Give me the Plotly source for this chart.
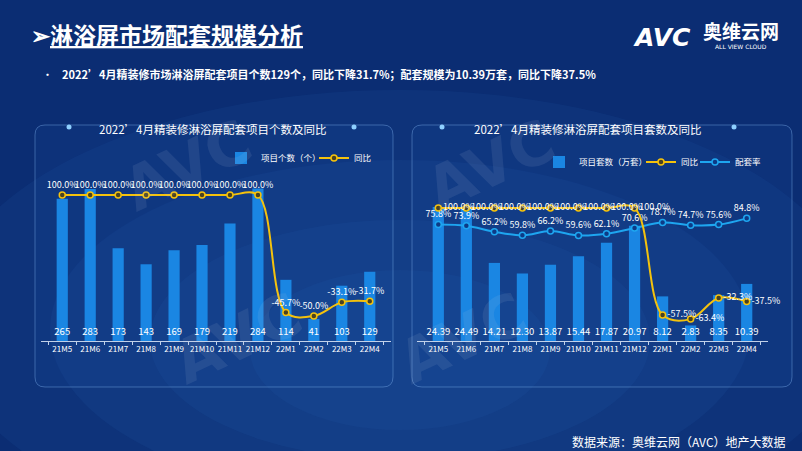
import plotly.graph_objects as go

W, H = 802, 451

# ---------------- data ----------------
months = ["21M5", "21M6", "21M7", "21M8", "21M9", "21M10",
          "21M11", "21M12", "22M1", "22M2", "22M3", "22M4"]
project_counts = [265, 283, 173, 143, 169, 179, 219, 284, 114, 41, 103, 129]
count_yoy = [100.0, 100.0, 100.0, 100.0, 100.0, 100.0, 100.0, 100.0,
             -45.7, -50.0, -33.1, -31.7]
set_volume = [24.39, 24.49, 14.21, 12.30, 13.87, 15.44, 17.87, 20.97,
              8.12, 2.83, 8.35, 10.39]
set_yoy = [100.0, 100.0, 100.0, 100.0, 100.0, 100.0, 100.0, 100.0,
           -57.5, -63.4, -32.3, -37.5]
match_rate = [75.8, 73.9, 65.2, 59.8, 66.2, 59.6, 62.1, 70.6,
              78.7, 74.7, 75.6, 84.8]

# ---------------- styling ----------------
FONT = "Noto Sans CJK SC"
BAR = "#1a86e3"
YELLOW = "#f4c20d"
CYAN = "#1ea6f0"
WHITE = "#ffffff"


def px_x(px):
    return px / W


def px_y(py):
    return 1 - py / H


fig = go.Figure()

# left chart
fig.add_trace(go.Bar(
    x=months, y=project_counts, xaxis="x", yaxis="y",
    name="项目个数（个）", legend="legend", legendwidth=48,
    marker=dict(color=BAR, line=dict(width=0)), width=0.4,
    text=[str(v) for v in project_counts],
    textposition="inside", insidetextanchor="start", textangle=0,
    constraintext="none",
    textfont=dict(color=WHITE, size=9.5, family=FONT),
))
fig.add_trace(go.Scatter(
    x=months, y=count_yoy, xaxis="x", yaxis="y2",
    name="同比", legend="legend",
    mode="lines+markers+text",
    line=dict(color=YELLOW, width=2, shape="spline", smoothing=1),
    marker=dict(size=6, color="#4a4220", line=dict(color=YELLOW, width=1.5)),
    text=[f"{v:.1f}%" for v in count_yoy], textposition="top center",
    textfont=dict(color=WHITE, size=9, family=FONT),
    cliponaxis=False,
))

# right chart
fig.add_trace(go.Bar(
    x=months, y=set_volume, xaxis="x2", yaxis="y3",
    name="项目套数（万套）", legend="legend2", legendrank=1, legendwidth=57,
    marker=dict(color=BAR, line=dict(width=0)), width=0.4,
    text=[f"{v:.2f}" for v in set_volume],
    textposition="inside", insidetextanchor="start", textangle=0,
    constraintext="none",
    textfont=dict(color=WHITE, size=9.5, family=FONT),
))
fig.add_trace(go.Scatter(
    x=months, y=match_rate, xaxis="x2", yaxis="y4",
    name="配套率", legend="legend2", legendrank=3,
    mode="lines+markers+text",
    line=dict(color=CYAN, width=2, shape="spline", smoothing=1),
    marker=dict(size=6, color="#0d3a86", line=dict(color=CYAN, width=1.5)),
    text=[f"{v:.1f}%" for v in match_rate], textposition="top center",
    textfont=dict(color=WHITE, size=9, family=FONT),
    cliponaxis=False,
))
fig.add_trace(go.Scatter(
    x=months, y=set_yoy, xaxis="x2", yaxis="y4",
    name="同比", legend="legend2", legendrank=2, legendwidth=9,
    mode="lines+markers+text",
    line=dict(color=YELLOW, width=2, shape="spline", smoothing=1),
    marker=dict(size=6, color="#4a4220", line=dict(color=YELLOW, width=1.5)),
    text=[f"{v:.1f}%" for v in set_yoy], textposition="middle right",
    textfont=dict(color=WHITE, size=9, family=FONT),
    cliponaxis=False,
))

ydom = [px_y(341), px_y(180)]
xaxis_common = dict(
    type="category", showgrid=False, zeroline=False,
    showline=True, linecolor="rgba(225,235,250,0.85)", linewidth=1,
    ticks="outside", tickson="boundaries", ticklen=3,
    tickcolor="rgba(225,235,250,0.85)", tickangle=0,
    tickfont=dict(color=WHITE, size=8, family=FONT),
    fixedrange=True,
)
yaxis_hidden = dict(showgrid=False, zeroline=False, showticklabels=False,
                    showline=False, ticks="", fixedrange=True)


def rounded_rect(x0, y0, x1, y1, r):
    pts = [
        ("M", [(x0 + r, y0)]), ("L", [(x1 - r, y0)]),
        ("Q", [(x1, y0), (x1, y0 + r)]), ("L", [(x1, y1 - r)]),
        ("Q", [(x1, y1), (x1 - r, y1)]), ("L", [(x0 + r, y1)]),
        ("Q", [(x0, y1), (x0, y1 - r)]), ("L", [(x0, y0 + r)]),
        ("Q", [(x0, y0), (x0 + r, y0)]),
    ]
    s = ""
    for cmd, coords in pts:
        s += cmd + " " + " ".join(f"{px_x(a):.5f},{px_y(b):.5f}" for a, b in coords) + " "
    return s + "Z"


shapes = []
# background glow
for (cx, cy, rx, ry, op) in [(400, 320, 460, 230, 0.07), (400, 330, 350, 170, 0.07),
                             (400, 340, 250, 120, 0.07), (400, 350, 150, 80, 0.06)]:
    shapes.append(dict(type="circle", xref="paper", yref="paper",
                       x0=px_x(cx - rx), x1=px_x(cx + rx),
                       y0=px_y(cy + ry), y1=px_y(cy - ry),
                       fillcolor="#3f8be0", opacity=op, line=dict(width=0),
                       layer="below"))
# panels
for (x0, x1) in [(35, 393), (412, 792)]:
    shapes.append(dict(type="path", xref="paper", yref="paper",
                       path=rounded_rect(x0, 125, x1, 387, 10),
                       fillcolor="rgba(30,80,170,0.15)",
                       line=dict(color="rgba(130,180,240,0.40)", width=1),
                       layer="below"))
# decorative dots on panel header
for (dx, dy) in [(69, 127), (354, 127), (442, 127), (734, 127)]:
    shapes.append(dict(type="circle", xref="paper", yref="paper",
                       x0=px_x(dx - 2.5), x1=px_x(dx + 2.5),
                       y0=px_y(dy + 2.5), y1=px_y(dy - 2.5),
                       fillcolor="#8fd0ff", line=dict(width=0), layer="below"))

wm_font = dict(size=60, color="rgba(200,210,230,0.10)", family="DejaVu Sans", weight="bold")
annotations = [
    # watermarks
    dict(text="AVC", x=px_x(110), y=px_y(165), xref="paper", yref="paper",
         showarrow=False, textangle=-25, font=wm_font),
    dict(text="AVC", x=px_x(490), y=px_y(165), xref="paper", yref="paper",
         showarrow=False, textangle=-25, font=wm_font),
    dict(text="AVC", x=px_x(160), y=px_y(400), xref="paper", yref="paper",
         showarrow=False, textangle=-25, font=wm_font),
    dict(text="AVC", x=px_x(540), y=px_y(400), xref="paper", yref="paper",
         showarrow=False, textangle=-25, font=wm_font),
    # title
    dict(text="➢<u>淋浴屏市场配套规模分析</u>", x=px_x(29), y=px_y(34),
         xref="paper", yref="paper", xanchor="left", yanchor="middle",
         showarrow=False,
         font=dict(size=23, color=WHITE, family=FONT, weight="bold")),
    # bullet
    dict(text="•", x=px_x(40), y=px_y(74), xref="paper", yref="paper",
         xanchor="left", yanchor="middle", showarrow=False,
         font=dict(size=11, color=WHITE, family=FONT)),
    dict(text="2022’4月精装修市场淋浴屏配套项目个数129个，同比下降31.7%；配套规模为10.39万套，同比下降37.5%",
         x=px_x(60), y=px_y(74), xref="paper", yref="paper",
         xanchor="left", yanchor="middle", showarrow=False,
         font=dict(size=11, color=WHITE, family=FONT, weight="bold")),
    # logo
    dict(text="<b><i>AVC</i></b>", x=px_x(662), y=px_y(38), xref="paper", yref="paper",
         xanchor="center", yanchor="middle", showarrow=False,
         font=dict(size=25, color=WHITE, family="DejaVu Sans")),
    dict(text="<b>奥维云网</b>", x=px_x(741), y=px_y(31), xref="paper", yref="paper",
         xanchor="center", yanchor="middle", showarrow=False,
         font=dict(size=19, color=WHITE, family=FONT)),
    dict(text="ALL VIEW CLOUD", x=px_x(741), y=px_y(46), xref="paper", yref="paper",
         xanchor="center", yanchor="middle", showarrow=False,
         font=dict(size=6, color=WHITE, family="DejaVu Sans")),
    # chart titles
    dict(text="2022’4月精装修淋浴屏配套项目个数及同比", x=px_x(212), y=px_y(129),
         xref="paper", yref="paper", xanchor="center", yanchor="middle",
         showarrow=False, font=dict(size=11.5, color=WHITE, family=FONT)),
    dict(text="2022’4月精装修淋浴屏配套项目套数及同比", x=px_x(587), y=px_y(129),
         xref="paper", yref="paper", xanchor="center", yanchor="middle",
         showarrow=False, font=dict(size=11.5, color=WHITE, family=FONT)),
    # source
    dict(text="数据来源：奥维云网（AVC）地产大数据", x=px_x(788), y=px_y(441),
         xref="paper", yref="paper", xanchor="right", yanchor="middle",
         showarrow=False, font=dict(size=12, color=WHITE, family=FONT)),
]

legend_common = dict(orientation="h", xanchor="left", yanchor="middle",
                     bgcolor="rgba(0,0,0,0)", borderwidth=0,
                     font=dict(color=WHITE, size=8.5, family=FONT),
                     itemwidth=30, traceorder="normal", itemclick=False,
                     itemdoubleclick=False)

fig.update_layout(
    width=W, height=H,
    margin=dict(l=0, r=0, t=0, b=0),
    paper_bgcolor="#0b2d73", plot_bgcolor="rgba(0,0,0,0)",
    font=dict(family=FONT, color=WHITE),
    showlegend=True,
    bargap=0.6,
    xaxis=dict(xaxis_common, domain=[px_x(41), px_x(391)], anchor="y"),
    yaxis=dict(yaxis_hidden, domain=ydom, range=[0, 300], anchor="x"),
    yaxis2=dict(yaxis_hidden, overlaying="y", range=[-81, 118.6], anchor="x", side="right"),
    xaxis2=dict(xaxis_common, domain=[px_x(417), px_x(768)], anchor="y3"),
    yaxis3=dict(yaxis_hidden, domain=ydom, range=[0, 29.3], anchor="x2"),
    yaxis4=dict(yaxis_hidden, overlaying="y3", range=[-95.6, 141.2], anchor="x2", side="right"),
    legend=dict(legend_common, x=px_x(221), y=px_y(158)),
    legend2=dict(legend_common, x=px_x(539), y=px_y(162)),
    shapes=shapes,
    annotations=annotations,
)

fig.write_html("out.html", config={"displayModeBar": False},
               post_script="document.body.style.margin='0';document.body.style.overflow='hidden';")
